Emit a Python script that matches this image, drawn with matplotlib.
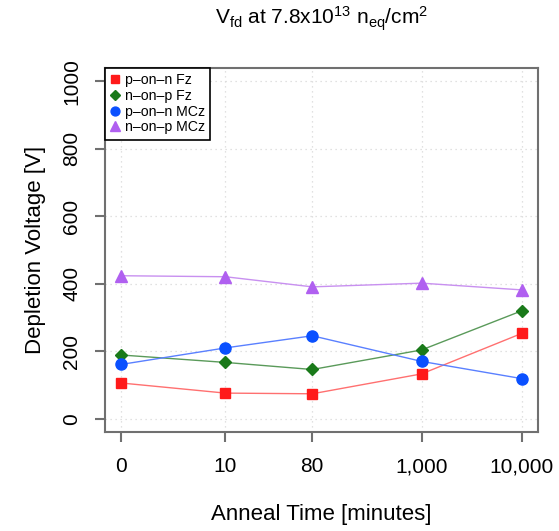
import numpy as np
import matplotlib
matplotlib.use('Agg')
import matplotlib.pyplot as plt
from matplotlib.lines import Line2D

plt.rcParams['font.family'] = ['Liberation Sans', 'DejaVu Sans']
plt.rcParams['mathtext.default'] = 'regular'

# Daten
anneal_labels = ['0', '10', '80', '1,000', '10,000']
anneal_minutes = [0, 10, 80, 1000, 10000]
p_on_n_fz = [106, 76, 74, 133, 253]
n_on_p_fz = [189, 167, 146, 204, 320]
p_on_n_mcz = [161, 210, 246, 170, 119]
n_on_p_mcz = [424, 421, 391, 402, 382]

serien = [
    ('p\u2013on\u2013n Fz', p_on_n_fz, 's', '#ff1a1a', '#ff7070', 7),
    ('n\u2013on\u2013p Fz', n_on_p_fz, 'D', '#1a7a1a', '#5a9a5a', 6.5),
    ('p\u2013on\u2013n MCz', p_on_n_mcz, 'o', '#0a50ff', '#5a80ff', 8),
    ('n\u2013on\u2013p MCz', n_on_p_mcz, '^', '#b060f0', '#c890f0', 9),
]

x = np.log10(np.array(anneal_minutes) + 1)

fig = plt.figure(figsize=(5.59, 5.31), dpi=100)
ax = fig.add_axes([0.188, 0.186, 0.774, 0.686])

# Gitter
for xv in x:
    ax.axvline(xv, color='#d8d8d8', lw=0.9, ls=(0, (1, 3)), zorder=0)
for yv in range(0, 1001, 200):
    ax.axhline(yv, color='#d8d8d8', lw=0.9, ls=(0, (1, 3)), zorder=0)

handles = []
for name, werte, m, farbe, linienfarbe, ms in serien:
    ax.plot(x, werte, color=linienfarbe, lw=1.0, zorder=2)
    ax.plot(x, werte, ls='none', marker=m, color=farbe, ms=ms, mec=farbe, zorder=3)
    handles.append(Line2D([], [], ls='none', marker=m, color=farbe, ms=ms * 0.8, label=name))

ax.set_xlim(-0.16, 4.16)
ax.set_ylim(-40, 1040)
ax.set_xticks(x)
ax.set_xticklabels(anneal_labels, fontsize=15)
ax.set_yticks(range(0, 1001, 200))
ax.set_yticklabels([str(v) for v in range(0, 1001, 200)], fontsize=15, rotation=90, va='center')

for s in ax.spines.values():
    s.set_color('#707070')
    s.set_linewidth(1.5)
ax.tick_params(axis='both', length=7, width=1.5, color='#707070', pad=11)
ax.tick_params(axis='y', pad=10)

ax.set_xlabel('Anneal Time [minutes]', fontsize=16, labelpad=20)
ax.set_ylabel('Depletion Voltage [V]', fontsize=16, labelpad=12)
ax.set_title('V$_{fd}$ at 7.8x10$^{13}$ n$_{eq}$/cm$^{2}$', fontsize=15, pad=31)

leg = ax.legend(handles=handles, loc='upper left', bbox_to_anchor=(0, 1), borderaxespad=0,
                fancybox=False, edgecolor='black', framealpha=1, fontsize=10.2,
                handlelength=0.6, handletextpad=0.4, labelspacing=0.12,
                borderpad=0.38)
leg.get_frame().set_linewidth(1.2)

fig.savefig('out.png', dpi=100)
